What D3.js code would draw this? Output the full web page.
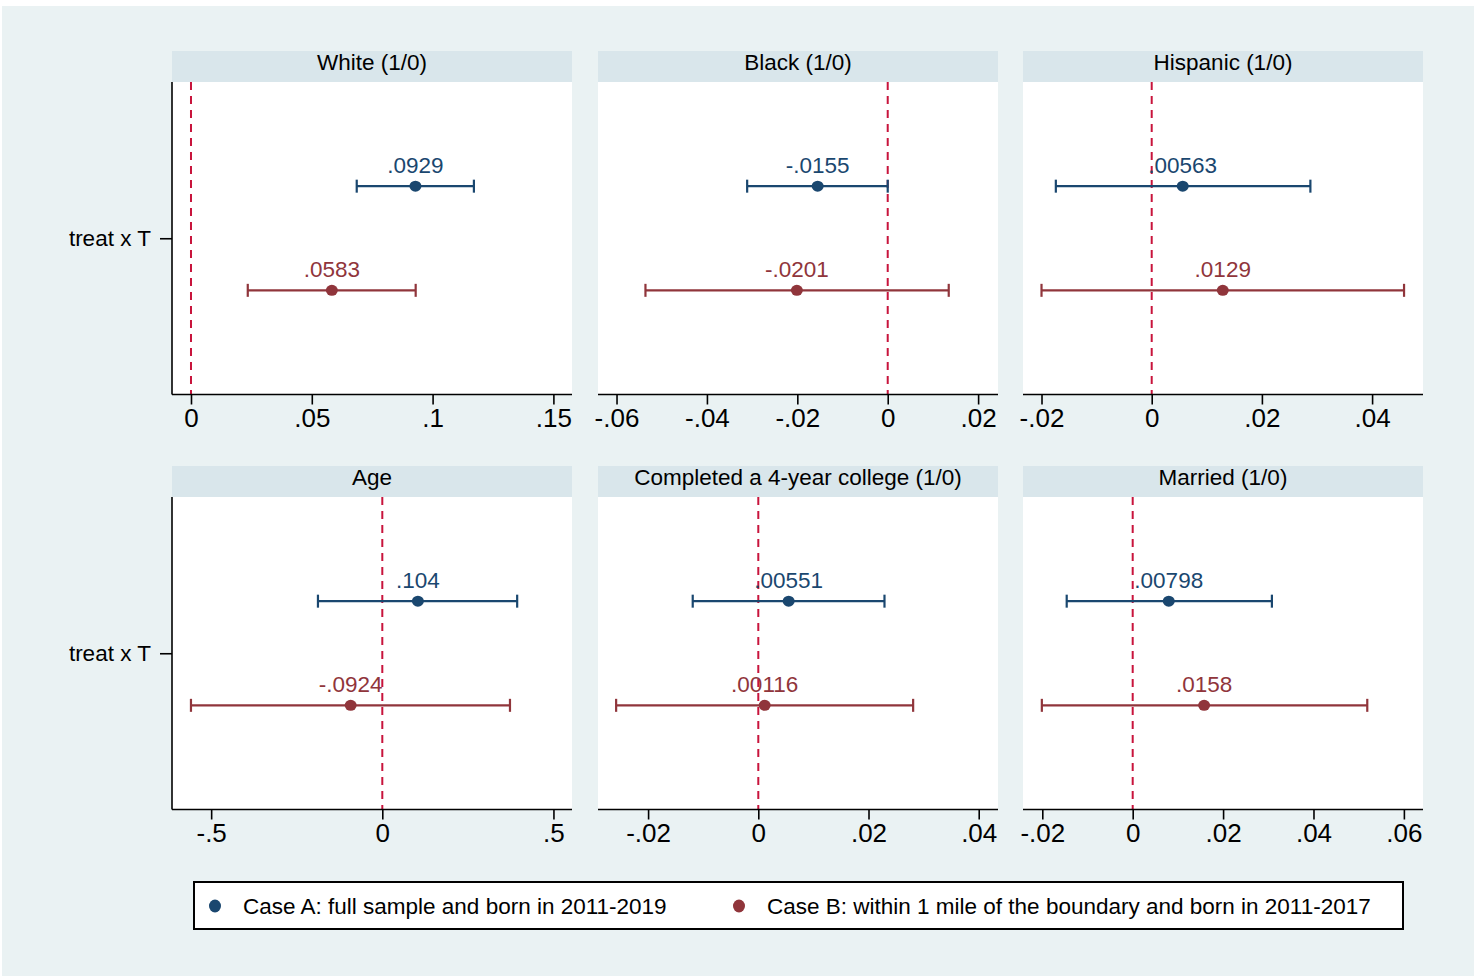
<!DOCTYPE html>
<html lang="en">
	<head>
		<meta charset="utf-8">
		<title>coefplot</title>
		<style>
			body { margin: 0; background: #fff; }
			svg text { font-family: "Liberation Sans", Arial, sans-serif; fill: #000; }
		</style>
	</head>
	<body>
		<svg id="graph" width="1479" height="976"></svg>

		<script src="https://d3js.org/d3.v7.min.js"></script>
		<script>
			"use strict";

			var panels = ["White (1/0)", "Black (1/0)", "Hispanic (1/0)", "Age", "Completed a 4-year college (1/0)", "Married (1/0)"];
			var seriesNames = ["Case A: full sample and born in 2011-2019", "Case B: within 1 mile of the boundary and born in 2011-2017"];
			var yLabel = "treat x T";

			// Case A
			var coefA = [0.0929, -0.0155, 0.00563, 0.104, 0.00551, 0.00798];
			var loA   = [0.0686, -0.0311, -0.0174, -0.188, -0.0119, -0.0146];
			var hiA   = [0.1171, 0.0000, 0.0288, 0.394, 0.0229, 0.0308];
			// Case B
			var coefB = [0.0583, -0.0201, 0.0129, -0.0924, 0.00116, 0.0158];
			var loB   = [0.0235, -0.0536, -0.0200, -0.559, -0.0258, -0.0201];
			var hiB   = [0.0930, 0.0135, 0.0458, 0.373, 0.0281, 0.0519];

			var xTicks = [
				[0, 0.05, 0.1, 0.15],
				[-0.06, -0.04, -0.02, 0, 0.02],
				[-0.02, 0, 0.02, 0.04],
				[-0.5, 0, 0.5],
				[-0.02, 0, 0.02, 0.04],
				[-0.02, 0, 0.02, 0.04, 0.06]
			];
			var xMin = [-0.00786, -0.0641, -0.02336, -0.6144, -0.02909, -0.02427];
			var xMax = [0.1577, 0.0244, 0.04924, 0.5542, 0.0435, 0.06423];

			var colors = ["#1a476f", "#90353b"];

			var loc = d3.formatLocale({ decimal: ".", thousands: ",", grouping: [3], currency: ["", ""], minus: "-" });
			var g3 = loc.format(".3~g");
			// stata style: no leading zero
			var stataFmt = function(v){
				return g3(v).replace(/^(-?)0\./, "$1.");
			};

			var svg = d3.select("#graph");
			svg.append("rect").attr("x", 2).attr("y", 6).attr("width", 1472).attr("height", 970).attr("fill", "#eaf2f3");

			var colX = [172, 598, 1023];
			var rowY = [51, 466];
			var pw = 400, stripH = 31, ph = 312.5;

			panels.forEach(function(title, i){
				var gx = colX[i % 3], gy = rowY[Math.floor(i / 3)];
				var g = svg.append("g").attr("transform", "translate(" + gx + "," + gy + ")");

				g.append("rect").attr("width", pw).attr("height", stripH).attr("fill", "#d9e6eb");
				g.append("text").attr("x", pw / 2).attr("y", 19).attr("text-anchor", "middle")
					.attr("font-size", 22.5).text(title);

				var p = g.append("g").attr("transform", "translate(0," + stripH + ")");
				p.append("rect").attr("width", pw).attr("height", ph).attr("fill", "#fff");

				var x = d3.scaleLinear().domain([xMin[i], xMax[i]]).range([0, pw]);
				var y = d3.scalePoint().domain(["A", "B"]).range([0, ph]).padding(1);

				// zero line
				p.append("line").attr("x1", x(0)).attr("x2", x(0)).attr("y1", 0).attr("y2", ph)
					.attr("stroke", "#c8143c").attr("stroke-width", 2).attr("stroke-dasharray", "8,6");

				var rows = [
					{ k: "A", b: coefA[i], lo: loA[i], hi: hiA[i], c: colors[0] },
					{ k: "B", b: coefB[i], lo: loB[i], hi: hiB[i], c: colors[1] }
				];

				var r = p.selectAll("g.row").data(rows).enter().append("g").attr("class", "row");
				r.append("line")
					.attr("x1", function(d){ return x(d.lo); }).attr("x2", function(d){ return x(d.hi); })
					.attr("y1", function(d){ return y(d.k); }).attr("y2", function(d){ return y(d.k); })
					.attr("stroke", function(d){ return d.c; }).attr("stroke-width", 2.2);
				["lo", "hi"].forEach(function(end){
					r.append("line")
						.attr("x1", function(d){ return x(d[end]); }).attr("x2", function(d){ return x(d[end]); })
						.attr("y1", function(d){ return y(d.k) - 6.5; }).attr("y2", function(d){ return y(d.k) + 6.5; })
						.attr("stroke", function(d){ return d.c; }).attr("stroke-width", 2.2);
				});
				r.append("ellipse")
					.attr("cx", function(d){ return x(d.b); }).attr("cy", function(d){ return y(d.k); })
					.attr("rx", 6).attr("ry", 5.5)
					.attr("fill", function(d){ return d.c; });
				r.append("text")
					.attr("x", function(d){ return x(d.b); }).attr("y", function(d){ return y(d.k) - 13; })
					.attr("text-anchor", "middle").attr("font-size", 22.5)
					.style("fill", function(d){ return d.c; })
					.text(function(d){ return stataFmt(d.b); });

				// x axis
				var ax = p.append("g").attr("transform", "translate(0," + ph + ")")
					.call(d3.axisBottom(x).tickValues(xTicks[i]).tickFormat(stataFmt).tickSize(10).tickPadding(4));
				ax.select(".domain").attr("stroke", "#000").attr("stroke-width", 1.6).attr("d", "M0,0H" + pw);
				ax.selectAll(".tick line").attr("stroke", "#000").attr("stroke-width", 1.6);
				ax.selectAll(".tick text").attr("font-size", 26).attr("font-family", null).attr("dy", "0.71em");

				// y axis only on first column
				if (i % 3 === 0) {
					var ay = p.append("g")
						.call(d3.axisLeft(d3.scalePoint().domain([yLabel]).range([0, ph]).padding(0.5)).tickSize(12).tickPadding(9));
					ay.select(".domain").attr("stroke", "#000").attr("stroke-width", 1.6).attr("d", "M0,0V" + ph);
					ay.selectAll(".tick line").attr("stroke", "#000").attr("stroke-width", 1.6);
					ay.selectAll(".tick text").attr("font-size", 22.5).attr("font-family", null);
				}
			});

			// legend
			var lg = svg.append("g").attr("transform", "translate(194,882)");
			lg.append("rect").attr("width", 1209).attr("height", 47).attr("fill", "#fff")
				.attr("stroke", "#000").attr("stroke-width", 2);
			var legX = [21, 545];
			seriesNames.forEach(function(name, k){
				lg.append("ellipse").attr("cx", legX[k]).attr("cy", 24).attr("rx", 6).attr("ry", 6.5).attr("fill", colors[k]);
				lg.append("text").attr("x", legX[k] + 28).attr("y", 32).attr("font-size", 22.5).text(name);
			});
		</script>
	</body>
</html>
